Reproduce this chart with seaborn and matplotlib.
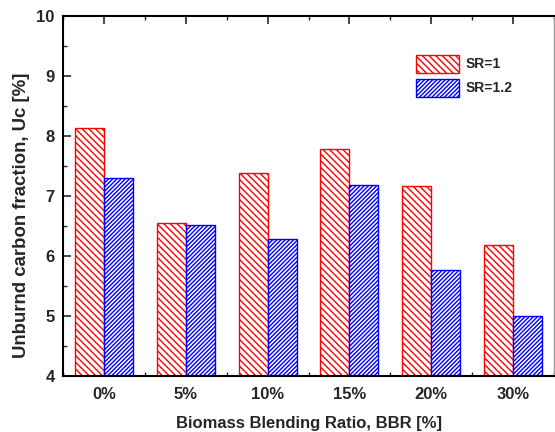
import matplotlib
matplotlib.use("Agg")
import matplotlib.pyplot as plt
from matplotlib.patches import Patch
from matplotlib.ticker import MultipleLocator, FixedLocator
import seaborn as sns
import pandas as pd

# Unburned carbon fraction by biomass blending ratio, for two stoichiometric ratios
categories = ["0%", "5%", "10%", "15%", "20%", "30%"]
sr_labels = ["SR=1", "SR=1.2"]
uc_sr1 = [8.13, 6.55, 7.39, 7.78, 7.16, 6.18]
uc_sr12 = [7.30, 6.51, 6.29, 7.19, 5.76, 5.00]

edge_colors = ["#ff0000", "#0000ff"]
hatches = ["\\" * 5, "/" * 8]

df = pd.DataFrame({
    "BBR": categories * 2,
    "SR": [sr_labels[0]] * len(categories) + [sr_labels[1]] * len(categories),
    "Uc": uc_sr1 + uc_sr12,
})

sns.set_style("ticks")
plt.rcParams["font.family"] = ["Liberation Sans", "DejaVu Sans"]
plt.rcParams["font.weight"] = "bold"
plt.rcParams["hatch.linewidth"] = 1.0

fig = plt.figure(figsize=(5.55, 4.32), dpi=100)
ax = fig.add_axes([63 / 555, 1 - 376 / 432, 491 / 555, 360 / 432])

sns.barplot(data=df, x="BBR", y="Uc", hue="SR", order=categories,
            hue_order=sr_labels, palette=edge_colors, width=0.71,
            errorbar=None, ax=ax, legend=False)

for cont, col, h in zip(ax.containers, edge_colors, hatches):
    for bar in cont:
        bar.set_facecolor("white")
        bar.set_edgecolor(col)
        bar.set_hatch(h)
        bar.set_linewidth(1.0)

ax.set_xlim(-0.5, len(categories) - 0.5)
ax.set_ylim(4, 10)
ax.yaxis.set_major_locator(MultipleLocator(1))
ax.yaxis.set_minor_locator(MultipleLocator(0.5))
ax.xaxis.set_minor_locator(FixedLocator([i + 0.5 for i in range(-1, len(categories))]))

ax.tick_params(axis="both", which="major", direction="in", length=6, width=1.2,
               labelsize=12, top=True, right=False)
ax.tick_params(axis="both", which="minor", direction="in", length=3, width=1.0,
               top=True, right=False)
ax.tick_params(axis="x", which="major", pad=8)
ax.tick_params(axis="y", which="major", pad=6)
for lab in ax.get_xticklabels() + ax.get_yticklabels():
    lab.set_fontweight("bold")

for side in ["left", "bottom", "top"]:
    ax.spines[side].set_linewidth(1.5)
    ax.spines[side].set_color("black")
ax.spines["right"].set_linewidth(1.0)
ax.spines["right"].set_color("#999999")

ax.set_xlabel("Biomass Blending Ratio, BBR [%]", fontsize=12, fontweight="bold", labelpad=10)
ax.set_ylabel("Unburnd carbon fraction, Uc [%]", fontsize=13.4, fontweight="bold")
ax.yaxis.set_label_coords(-0.067, 0.447)

handles = [Patch(facecolor="white", edgecolor=c, hatch=h, linewidth=1.0)
           for c, h in zip(edge_colors, hatches)]
ax.legend(handles, sr_labels, loc="upper left", bbox_to_anchor=(0.719, 0.892),
          frameon=False, borderpad=0, borderaxespad=0,
          handlelength=3.1, handleheight=1.6, handletextpad=0.5, labelspacing=0.45,
          prop={"weight": "bold", "size": 10})

fig.savefig("out.png", dpi=100)
